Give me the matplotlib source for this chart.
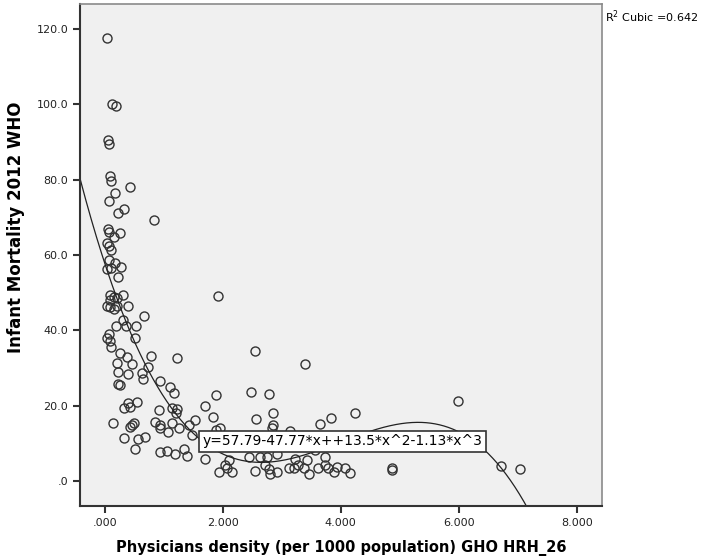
import numpy as np
import matplotlib
matplotlib.use("Agg")
import matplotlib.pyplot as plt

# physicians density (per 1000) vs infant mortality 2012
physicians = [
    0.04, 0.13, 0.19, 0.06, 0.07, 0.09, 0.10, 0.42, 0.17, 0.08,
    0.32, 0.22, 0.83, 0.06, 0.07, 0.25, 0.15, 0.04, 0.07, 0.10,
    0.07, 0.18, 0.27, 0.04, 0.10, 0.22, 0.09, 0.15, 0.20, 0.31,
    0.09, 0.04, 0.09, 0.15, 0.20, 0.40, 0.67, 1.92, 0.31, 0.19,
    0.36, 0.53, 0.08, 0.03, 0.09, 0.10, 0.52, 0.25, 0.38, 0.21,
    0.46, 0.78, 1.23, 0.73, 0.23, 0.39, 0.63, 0.64, 0.23, 0.25,
    0.94, 1.11, 1.18, 1.89, 1.70, 0.55, 0.39, 0.32, 0.43, 0.92,
    1.14, 1.23, 1.21, 0.14, 0.50, 0.47, 0.43, 0.86, 0.94, 1.14,
    0.94, 1.08, 1.25, 1.42, 1.53, 1.83, 1.48, 0.32, 0.57, 0.69,
    0.52, 0.94, 1.05, 1.19, 1.34, 1.39, 1.89, 1.96, 1.70, 1.93,
    2.04, 2.10, 2.16, 2.08, 2.55, 3.39, 2.48, 2.78, 2.57, 2.85,
    2.86, 2.83, 3.14, 5.99, 4.25, 3.84, 3.65, 2.44, 2.63, 2.75,
    2.92, 3.23, 3.43, 3.57, 3.74, 2.55, 2.72, 2.78, 2.80, 2.92,
    3.12, 3.20, 3.28, 3.37, 3.47, 3.62, 3.74, 3.79, 3.88, 3.94,
    4.08, 4.16, 4.87, 4.87, 6.71, 7.04,
]
mortality = [
    117.5, 100.0, 99.5, 90.5, 89.5, 81.0, 79.6, 78.0, 76.4, 74.3,
    72.3, 71.1, 69.4, 67.0, 66.1, 65.8, 64.9, 63.2, 62.3, 61.2,
    58.7, 57.8, 56.8, 56.3, 56.5, 54.2, 49.3, 48.9, 48.5, 49.4,
    48.0, 46.6, 46.1, 45.6, 46.4, 46.5, 43.9, 49.0, 42.7, 41.1,
    41.1, 41.2, 39.0, 37.9, 37.2, 35.7, 38.0, 34.1, 33.0, 31.4,
    31.1, 33.3, 32.8, 30.3, 29.0, 28.3, 28.6, 27.0, 25.9, 25.6,
    26.5, 25.0, 23.4, 22.9, 20.0, 21.1, 20.6, 19.4, 19.6, 18.8,
    19.3, 19.1, 18.2, 15.5, 15.5, 15.0, 14.4, 15.7, 14.9, 15.3,
    14.0, 13.1, 14.0, 14.9, 16.2, 17.0, 12.2, 11.5, 11.1, 11.6,
    8.4, 7.6, 8.0, 7.2, 8.4, 6.6, 13.5, 14.2, 5.8, 2.5,
    4.2, 5.6, 2.4, 3.5, 34.5, 31.0, 23.7, 23.1, 16.5, 18.0,
    14.9, 14.0, 13.3, 21.3, 18.0, 16.8, 15.1, 6.3, 6.5, 6.3,
    7.2, 6.0, 5.6, 8.2, 6.3, 2.7, 4.2, 3.3, 2.0, 2.5,
    3.6, 3.4, 4.2, 3.4, 1.9, 3.6, 4.2, 3.6, 2.4, 3.8,
    3.6, 2.2, 3.4, 2.9, 4.0, 3.2,
]

# cubic fit reported by SPSS
coefs = [-1.13, 13.5, -47.77, 57.79]
r2 = 0.642
fit_label = "y=57.79-47.77*x++13.5*x^2-1.13*x^3"

xticks = [0, 2, 4, 6, 8]
xtick_labels = [".000", "2.000", "4.000", "6.000", "8.000"]
yticks = [0, 20, 40, 60, 80, 100, 120]
ytick_labels = [".0", "20.0", "40.0", "60.0", "80.0", "100.0", "120.0"]

fig = plt.figure(figsize=(7.06, 5.6), dpi=100)
ax = fig.add_axes([80 / 706, 1 - 506 / 560, 522 / 706, 502 / 560])
ax.set_facecolor("#f0f0f0")

ax.plot(physicians, mortality, linestyle="none", marker="o", markersize=6.5,
        markerfacecolor="none", markeredgecolor="#333333", markeredgewidth=1.0)

xs = np.linspace(-0.5, 8.5, 600)
ax.plot(xs, np.polyval(coefs, xs), color="#222222", linewidth=0.9)

ax.set_xlim(-0.42, 8.43)
ax.set_ylim(-6.6, 126.6)
ax.set_xticks(xticks)
ax.set_xticklabels(xtick_labels, fontsize=8, color="#222222")
ax.set_yticks(yticks)
ax.set_yticklabels(ytick_labels, fontsize=8, color="#222222")
ax.tick_params(direction="out", length=5, width=1.5, color="#333333")

for side in ["left", "bottom"]:
    ax.spines[side].set_linewidth(1.5)
    ax.spines[side].set_color("#333333")
for side in ["top", "right"]:
    ax.spines[side].set_linewidth(1.2)
    ax.spines[side].set_color("#8a8a8a")

ax.set_xlabel("Physicians density (per 1000 population) GHO HRH_26",
              fontsize=10.5, fontweight="bold")
ax.set_ylabel("Infant Mortality 2012 WHO", fontsize=12, fontweight="bold")
ax.xaxis.set_label_coords(0.5, -0.068)
ax.yaxis.set_label_coords(-0.105, 0.556)

ax.text(4.03, 10.6, fit_label, ha="center", va="center", fontsize=10,
        bbox=dict(boxstyle="square,pad=0.25", facecolor="white",
                  edgecolor="#333333", linewidth=1.2), zorder=5)

fig.text(605 / 706, 1 - 17 / 560, r"R$^2$ Cubic =%.3f" % r2, fontsize=8,
         ha="left", va="center")

fig.savefig("out.png", dpi=100, facecolor="white")
